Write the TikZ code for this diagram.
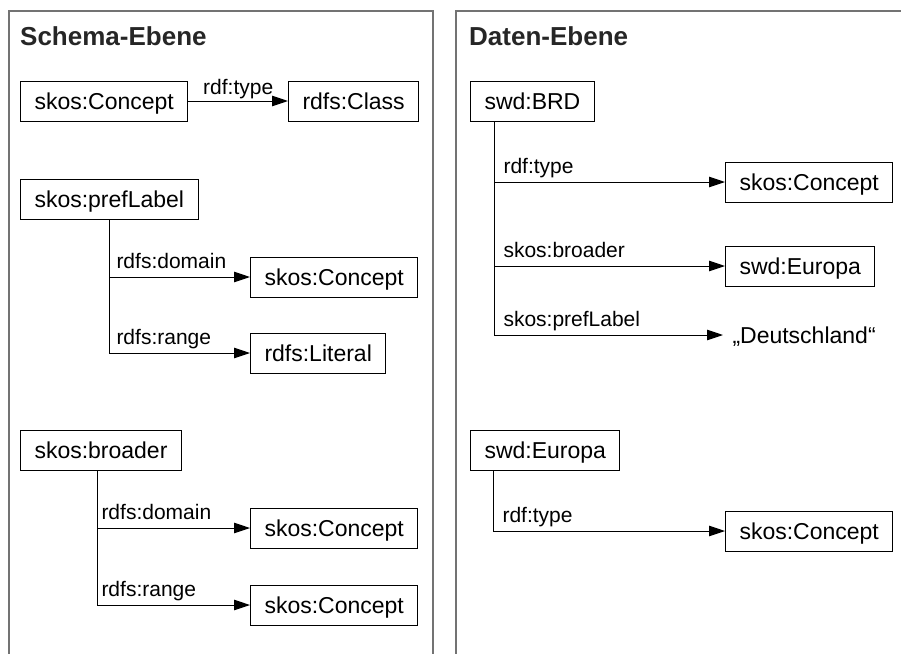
\documentclass[tikz,border=0pt]{standalone}
\usepackage{fontspec}
\setmainfont{Liberation Sans}
\usepackage{xcolor}
\usetikzlibrary{arrows.meta}

\tikzset{
  box/.style={draw,rectangle,line width=1pt,inner xsep=14pt,minimum height=40pt,text height=16.5pt,text depth=0pt,anchor=west,font=\fontsize{23}{27}\selectfont},
  lbl/.style={inner sep=0pt,anchor=base west,font=\fontsize{21}{25}\selectfont},
  rel/.style={line width=1pt,-{Triangle[length=16pt,width=10.5pt]}},
  panel/.style={line width=1.5pt,draw=black!55},
  title/.style={inner sep=0pt,anchor=base west,text=black!85,font=\fontsize{26}{30}\selectfont\bfseries}
}

\begin{document}
\begin{tikzpicture}[x=1pt,y=-1pt]
\useasboundingbox (0,0) rectangle (901,653);

\draw[panel] (9,665) -- (9,11) -- (433,11) -- (433,665);
\draw[panel] (456,665) -- (456,11) -- (915,11);

\node[title](t1) at (20,45){Schema-Ebene};
\node[title](t2) at (469,45){Daten-Ebene};

\node[box](a1) at (20,101){skos:Concept};
\node[box](a2) at (288,101){rdfs:Class};
\draw[rel](a1) -- node[lbl,anchor=base,yshift=7pt]{rdf:type} (a2);

\node[box](b1) at (20,199){skos:prefLabel};
\node[box](b2) at (250,277){skos:Concept};
\node[box](b3) at (250,353){rdfs:Literal};
\draw[rel]([xshift=89pt]b1.south west) |- node[lbl,pos=0.5,xshift=7pt,yshift=9pt]{rdfs:domain} (b2);
\draw[rel]([xshift=89pt]b1.south west) |- node[lbl,pos=0.5,xshift=7pt,yshift=9pt]{rdfs:range} (b3);

\node[box](c1) at (20,450){skos:broader};
\node[box](c2) at (250,528){skos:Concept};
\node[box](c3) at (250,605){skos:Concept};
\draw[rel]([xshift=77pt]c1.south west) |- node[lbl,pos=0.5,xshift=4pt,yshift=9pt]{rdfs:domain} (c2);
\draw[rel]([xshift=77pt]c1.south west) |- node[lbl,pos=0.5,xshift=4pt,yshift=9pt]{rdfs:range} (c3);

\node[box](d1) at (470,101){swd:BRD};
\node[box](d2) at (725,182){skos:Concept};
\node[box](d3) at (725,266){swd:Europa};
\node[box,draw=none,inner xsep=9pt](d4) at (723,335){„Deutschland“};
\draw[rel]([xshift=24pt]d1.south west) |- node[lbl,pos=0.5,xshift=9pt,yshift=9pt]{rdf:type} (d2);
\draw[rel]([xshift=24pt]d1.south west) |- node[lbl,pos=0.5,xshift=9pt,yshift=9pt]{skos:broader} (d3);
\draw[rel]([xshift=24pt]d1.south west) |- node[lbl,pos=0.5,xshift=9pt,yshift=9pt]{skos:prefLabel} (d4);

\node[box](e1) at (470,450){swd:Europa};
\node[box](e2) at (725,531){skos:Concept};
\draw[rel]([xshift=23pt]e1.south west) |- node[lbl,pos=0.5,xshift=9pt,yshift=9pt]{rdf:type} (e2);

\end{tikzpicture}
\end{document}
